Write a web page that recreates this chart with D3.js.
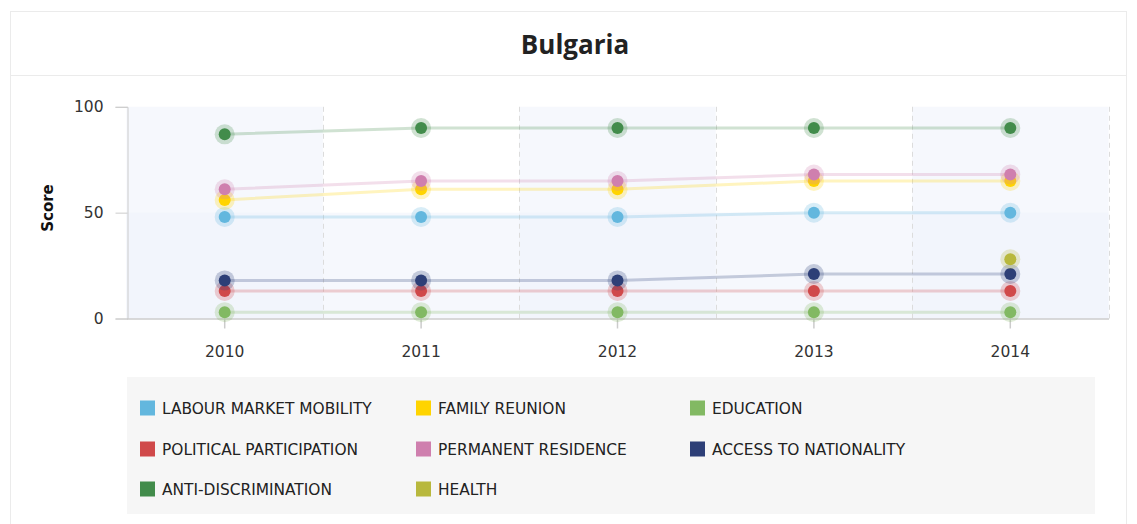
<!DOCTYPE html>
<html>
<head>
<meta charset="utf-8">
<script src="https://cdn.jsdelivr.net/npm/d3@7"></script>
<style>
  html, body { margin: 0; padding: 0; background: #fff; }
  svg { display: block; }
</style>
</head>
<body>
<svg id="chart" width="1137" height="524"></svg>
<script>
// MIPEX strand scores for Bulgaria, 2010–2014
const years = ["2010", "2011", "2012", "2013", "2014"];
const seriesNames = [
  "LABOUR MARKET MOBILITY", "FAMILY REUNION", "EDUCATION",
  "POLITICAL PARTICIPATION", "PERMANENT RESIDENCE", "ACCESS TO NATIONALITY",
  "ANTI-DISCRIMINATION", "HEALTH"
];
const labourMarketMobility = [48, 48, 48, 50, 50];
const familyReunion = [56, 61, 61, 65, 65];
const education = [3, 3, 3, 3, 3];
const politicalParticipation = [13, 13, 13, 13, 13];
const permanentResidence = [61, 65, 65, 68, 68];
const accessToNationality = [18, 18, 18, 21, 21];
const antiDiscrimination = [87, 90, 90, 90, 90];
const health = [null, null, null, null, 28];
const yTicks = [0, 50, 100];
const seriesColors = ["#63b7de", "#ffd400", "#82b963", "#d0494a", "#cf7fae", "#2d3f77", "#428c4b", "#b8b83d"];

const seriesValues = [
  labourMarketMobility, familyReunion, education, politicalParticipation,
  permanentResidence, accessToNationality, antiDiscrimination, health
];
const series = seriesNames.map((name, i) => ({
  name, color: seriesColors[i],
  points: years.map((y, j) => ({ year: y, value: seriesValues[i][j] }))
}));

const svg = d3.select("#chart");
const font = "'DejaVu Sans', Verdana, sans-serif";

// card frame and header
svg.append("rect").attr("x", 10.5).attr("y", 11.5).attr("width", 1116).attr("height", 530)
  .attr("fill", "#fff").attr("stroke", "#ebebeb");
svg.append("line").attr("x1", 10.5).attr("x2", 1126.5).attr("y1", 75.5).attr("y2", 75.5)
  .attr("stroke", "#ebebeb");
svg.append("text").attr("x", 575).attr("y", 54).attr("text-anchor", "middle")
  .attr("font-family", "'Open Sans', sans-serif").attr("font-weight", 700)
  .attr("font-size", 26).attr("fill", "#222").text("Bulgaria");

// scales
const band = d3.scaleBand().domain(years).range([126.5, 1108.5]).padding(0);
const xc = d => band(d) + band.bandwidth() / 2;
const y = d3.scaleLinear().domain([0, 100]).range([318.5, 106.8]);
const plotLeft = band.range()[0], plotRight = band.range()[1];

// plot bands: alternating year columns and the lower score half
const bg = svg.append("g");
years.forEach((yr, i) => {
  if (i % 2 === 0) {
    bg.append("rect").attr("x", band(yr)).attr("y", y(100))
      .attr("width", band.bandwidth()).attr("height", y(0) - y(100))
      .attr("fill", "#eef2fb").attr("fill-opacity", 0.5);
  }
});
bg.append("rect").attr("x", plotLeft).attr("y", y(50))
  .attr("width", plotRight - plotLeft).attr("height", y(0) - y(50))
  .attr("fill", "#eef2fb").attr("fill-opacity", 0.5);

// dashed separators between year columns
years.forEach(yr => {
  const xr = band(yr) + band.bandwidth();
  bg.append("line").attr("x1", Math.round(xr) + 0.5).attr("x2", Math.round(xr) + 0.5)
    .attr("y1", y(100)).attr("y2", y(0))
    .attr("stroke", "#dcdcdc").attr("stroke-dasharray", "5,4");
});

// y axis
const yAxis = svg.append("g").attr("transform", `translate(${Math.round(plotLeft) + 0.5},0)`)
  .call(d3.axisLeft(y).tickValues(yTicks).tickSize(12).tickPadding(12));
yAxis.select(".domain").attr("stroke", "#ccc");
yAxis.selectAll(".tick line").attr("stroke", "#ccc");
yAxis.selectAll(".tick text").attr("font-family", font).attr("font-size", 15.5).attr("fill", "#333");

// x axis
const xAxis = svg.append("g").attr("transform", `translate(0,${y(0)})`)
  .call(d3.axisBottom(band).tickSize(10).tickPadding(17).tickSizeOuter(0));
xAxis.select(".domain").attr("stroke", "#ccc").attr("stroke-width", 1.5);
xAxis.selectAll(".tick line").attr("stroke", "#ccc").attr("stroke-width", 1.5);
xAxis.selectAll(".tick text").attr("font-family", font).attr("font-size", 15.5).attr("fill", "#333");

// y axis title
svg.append("text").attr("transform", `translate(53,208) rotate(-90)`)
  .attr("text-anchor", "middle").attr("font-family", font).attr("font-weight", 700)
  .attr("font-size", 15).attr("fill", "#111").text("Score");

// series lines and markers
const line = d3.line().defined(d => d.value !== null)
  .x(d => xc(d.year)).y(d => y(d.value));
const gSeries = svg.append("g").selectAll("g").data(series).join("g");
gSeries.append("path").attr("d", d => line(d.points))
  .attr("fill", "none").attr("stroke", d => d.color)
  .attr("stroke-width", 3).attr("stroke-opacity", 0.25);
gSeries.each(function (s) {
  const pts = s.points.filter(p => p.value !== null);
  const g = d3.select(this);
  g.selectAll("circle.halo").data(pts).join("circle").attr("class", "halo")
    .attr("cx", p => xc(p.year)).attr("cy", p => y(p.value)).attr("r", 10)
    .attr("fill", s.color).attr("fill-opacity", 0.25);
  g.selectAll("circle.dot").data(pts).join("circle").attr("class", "dot")
    .attr("cx", p => xc(p.year)).attr("cy", p => y(p.value)).attr("r", 6)
    .attr("fill", s.color);
});

// legend
const legend = svg.append("g");
legend.append("rect").attr("x", 127).attr("y", 377).attr("width", 968).attr("height", 137)
  .attr("fill", "#f6f6f6");
const colX = [140, 416, 690];
const rowY = [408, 449, 489];
series.forEach((s, i) => {
  const cx = colX[i % 3], cy = rowY[Math.floor(i / 3)];
  legend.append("rect").attr("x", cx).attr("y", cy - 7.5).attr("width", 15).attr("height", 15)
    .attr("fill", s.color);
  legend.append("text").attr("x", cx + 22).attr("y", cy).attr("dy", "0.36em")
    .attr("font-family", font).attr("font-size", 15.4).attr("fill", "#222").text(s.name);
});
</script>
</body>
</html>
